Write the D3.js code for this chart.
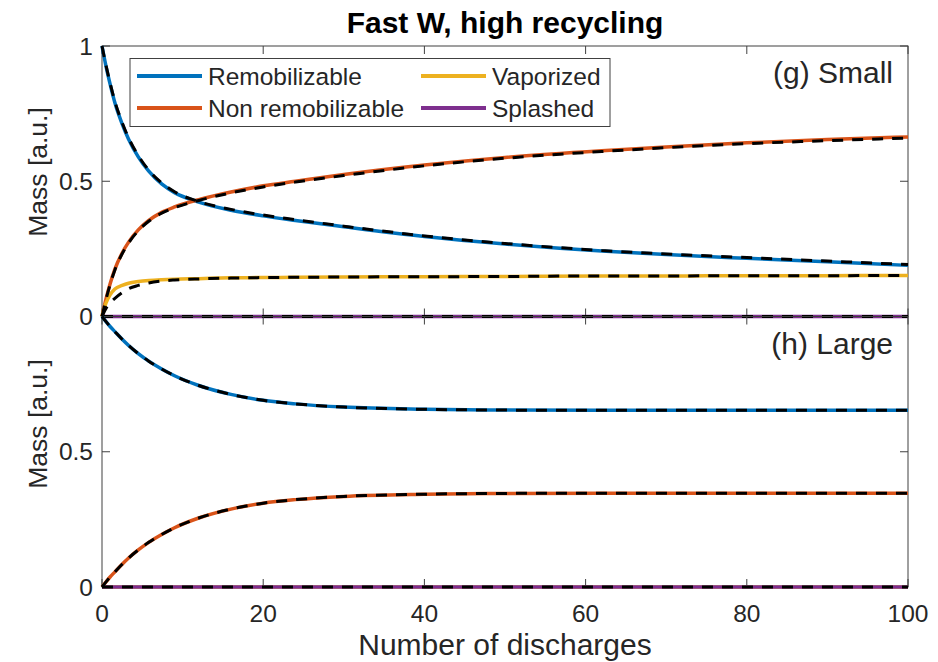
<!DOCTYPE html>
<html>
<head>
<meta charset="utf-8">
<script src="https://cdn.jsdelivr.net/npm/d3@7"></script>
<style>
body { margin: 0; background: #fff; }
text { font-family: "Liberation Sans", Arial, sans-serif; fill: #262626; }
</style>
</head>
<body>
<script>
var discharges = [0, 0.5, 1, 1.6, 2.5, 3.3, 4.5, 5.8, 7.4, 9, 12, 16, 20, 24, 30, 40, 50, 62, 70, 80, 90, 100];

// (g) small particles - simulation (solid)
var smallRemob    = [1, 0.925, 0.86, 0.79, 0.712, 0.655, 0.59, 0.537, 0.49, 0.458, 0.423, 0.393, 0.372, 0.355, 0.332, 0.296, 0.268, 0.242, 0.229, 0.215, 0.202, 0.189];
var smallNonRemob = [0, 0.065, 0.12, 0.175, 0.235, 0.275, 0.32, 0.355, 0.385, 0.405, 0.432, 0.46, 0.483, 0.5, 0.525, 0.56, 0.588, 0.613, 0.627, 0.642, 0.654, 0.664];
var smallVapor    = [0, 0.05, 0.08, 0.102, 0.115, 0.123, 0.129, 0.133, 0.136, 0.138, 0.14, 0.143, 0.144, 0.145, 0.146, 0.147, 0.148, 0.15, 0.15, 0.151, 0.151, 0.152];
var smallSplash   = [0, 0, 0, 0, 0, 0, 0, 0, 0, 0, 0, 0, 0, 0, 0, 0, 0, 0, 0, 0, 0, 0];

// (g) small particles - model (dashed)
var smallRemobFit    = [1, 0.928, 0.864, 0.795, 0.717, 0.66, 0.595, 0.541, 0.494, 0.461, 0.425, 0.396, 0.375, 0.358, 0.334, 0.298, 0.27, 0.244, 0.231, 0.218, 0.205, 0.192];
var smallNonRemobFit = [0, 0.063, 0.118, 0.172, 0.232, 0.272, 0.317, 0.352, 0.382, 0.402, 0.429, 0.457, 0.479, 0.497, 0.521, 0.557, 0.585, 0.61, 0.624, 0.639, 0.65, 0.66];
var smallVaporFit    = [0, 0.03, 0.05, 0.067, 0.088, 0.103, 0.115, 0.124, 0.131, 0.135, 0.139, 0.142, 0.144, 0.145, 0.146, 0.147, 0.148, 0.15, 0.15, 0.151, 0.151, 0.152];

// (h) large particles - simulation (solid)
var largeRemob    = [1, 0.981, 0.963, 0.944, 0.916, 0.893, 0.863, 0.835, 0.806, 0.781, 0.745, 0.712, 0.69, 0.677, 0.665, 0.657, 0.654, 0.653, 0.653, 0.653, 0.653, 0.653];
var largeNonRemob = [0, 0.019, 0.037, 0.056, 0.084, 0.107, 0.137, 0.165, 0.194, 0.219, 0.255, 0.288, 0.31, 0.323, 0.335, 0.343, 0.346, 0.347, 0.347, 0.347, 0.347, 0.347];
var largeVapor    = [0, 0, 0, 0, 0, 0, 0, 0, 0, 0, 0, 0, 0, 0, 0, 0, 0, 0, 0, 0, 0, 0];
var largeSplash   = [0, 0, 0, 0, 0, 0, 0, 0, 0, 0, 0, 0, 0, 0, 0, 0, 0, 0, 0, 0, 0, 0];

var xTicks = [0, 20, 40, 60, 80, 100];
var yTicks = [0, 0.5, 1];
var seriesNames = ["Remobilizable", "Non remobilizable", "Vaporized", "Splashed"];
var seriesColors = ["#0072BD", "#D95319", "#EDB120", "#7E2F8E"];

var width = 938, height = 662;
var left = 102, right = 908;
var panelH = 270.5;
var topY = 46;

var svg = d3.select("body").append("svg").attr("width", width).attr("height", height);

var x = d3.scaleLinear().domain([0, 100]).range([left, right]);

function toPoints(vals) {
	return vals.map(function(v, i) { return [discharges[i], v]; });
}

function drawPanel(y0, solids, dashed, label, tickLabels, showXLabels) {
	var y = d3.scaleLinear().domain([0, 1]).range([y0 + panelH, y0]);
	var g = svg.append("g");

	var line = d3.line()
		.x(function(d) { return x(d[0]); })
		.y(function(d) { return y(d[1]); })
		.curve(d3.curveMonotoneX);

	// box
	g.append("rect").attr("x", left).attr("y", y0).attr("width", right - left).attr("height", panelH)
		.attr("fill", "none").attr("stroke", "#404040").attr("stroke-width", 1);

	// inner ticks on all four sides
	xTicks.forEach(function(t) {
		g.append("line").attr("x1", x(t)).attr("x2", x(t)).attr("y1", y0 + panelH).attr("y2", y0 + panelH - 8).attr("stroke", "#404040");
		g.append("line").attr("x1", x(t)).attr("x2", x(t)).attr("y1", y0).attr("y2", y0 + 8).attr("stroke", "#404040");
	});
	yTicks.forEach(function(t) {
		g.append("line").attr("x1", left).attr("x2", left + 8).attr("y1", y(t)).attr("y2", y(t)).attr("stroke", "#404040");
		g.append("line").attr("x1", right).attr("x2", right - 8).attr("y1", y(t)).attr("y2", y(t)).attr("stroke", "#404040");
	});

	tickLabels.forEach(function(t) {
		g.append("text").attr("x", left - 9).attr("y", y(t) + 8.5).attr("text-anchor", "end")
			.style("font-size", "24.5px").text(t === 0.5 ? "0.5" : String(t));
	});

	if (showXLabels) {
		xTicks.forEach(function(t) {
			g.append("text").attr("x", x(t)).attr("y", y0 + panelH + 35).attr("text-anchor", "middle")
				.style("font-size", "24.5px").text(t);
		});
	}

	solids.forEach(function(s, i) {
		g.append("path").datum(toPoints(s)).attr("d", line).attr("fill", "none")
			.attr("stroke", seriesColors[i]).attr("stroke-width", 3.5);
	});
	dashed.forEach(function(s) {
		g.append("path").datum(toPoints(s)).attr("d", line).attr("fill", "none")
			.attr("stroke", "#000").attr("stroke-width", 3).attr("stroke-dasharray", "11,9");
	});

	g.append("text").attr("x", 893).attr("y", y0 + 37).attr("text-anchor", "end")
		.style("font-size", "30px").text(label);

	return y;
}

drawPanel(topY, [smallRemob, smallNonRemob, smallVapor, smallSplash],
	[smallRemobFit, smallNonRemobFit, smallVaporFit, smallSplash], "(g) Small", [0, 0.5, 1], false);
drawPanel(topY + panelH, [largeRemob, largeNonRemob, largeVapor, largeSplash],
	[largeRemob, largeNonRemob, largeSplash], "(h) Large", [0, 0.5], true);

// y labels
[172, 424].forEach(function(cy) {
	svg.append("text").attr("transform", "translate(47," + cy + ") rotate(-90)")
		.attr("text-anchor", "middle").style("font-size", "26.5px").text("Mass [a.u.]");
});

// title and x label
svg.append("text").attr("x", (left + right) / 2).attr("y", 33).attr("text-anchor", "middle")
	.style("font-size", "30px").style("font-weight", "bold").style("fill", "#000").text("Fast W, high recycling");
svg.append("text").attr("x", (left + right) / 2).attr("y", 655).attr("text-anchor", "middle")
	.style("font-size", "30px").text("Number of discharges");

// legend
var legend = svg.append("g");
legend.append("rect").attr("x", 130).attr("y", 58.5).attr("width", 480).attr("height", 68)
	.attr("fill", "#fff").attr("stroke", "#404040").attr("stroke-width", 1);
var legendPos = [[137, 76], [137, 108], [421, 76], [421, 108]];
seriesNames.forEach(function(name, i) {
	var p = legendPos[i];
	legend.append("line").attr("x1", p[0]).attr("x2", p[0] + 65).attr("y1", p[1]).attr("y2", p[1])
		.attr("stroke", seriesColors[i]).attr("stroke-width", 4);
	legend.append("text").attr("x", p[0] + 71).attr("y", p[1] + 8.5).style("font-size", "24.5px").text(name);
});
</script>
</body>
</html>
